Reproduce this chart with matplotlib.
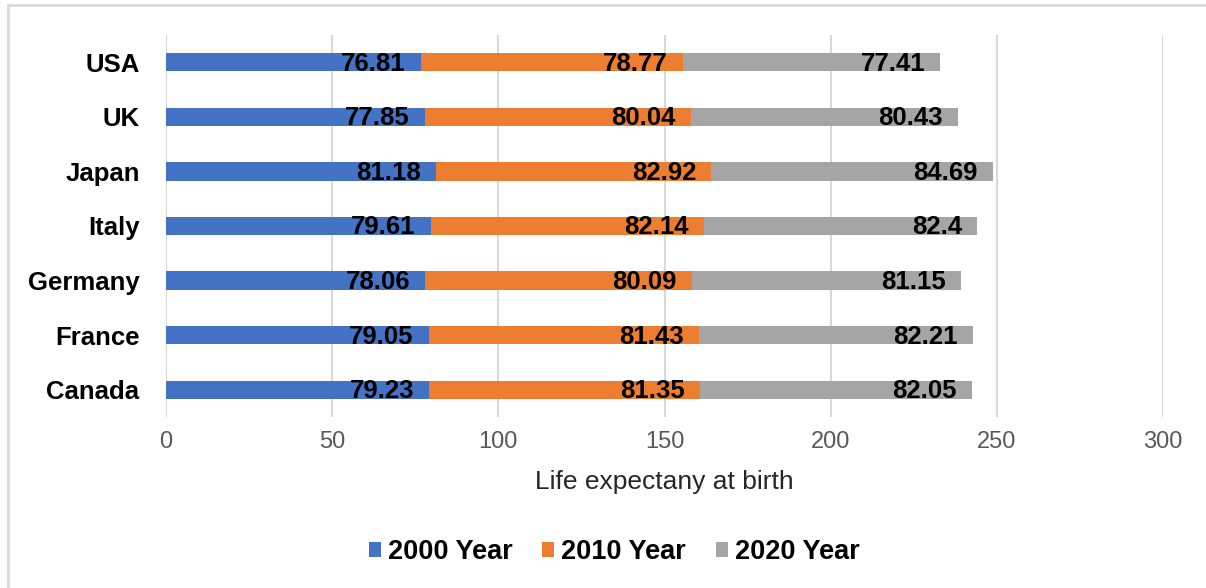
import matplotlib.pyplot as plt
import numpy as np
from matplotlib.lines import Line2D

plt.rcParams['font.family'] = ['Liberation Sans', 'DejaVu Sans']

# Life expectancy at birth, bottom row first
countries = ['Canada', 'France', 'Germany', 'Italy', 'Japan', 'UK', 'USA']
y2000 = [79.23, 79.05, 78.06, 79.61, 81.18, 77.85, 76.81]
y2010 = [81.35, 81.43, 80.09, 82.14, 82.92, 80.04, 78.77]
y2020 = [82.05, 82.21, 81.15, 82.4, 84.69, 80.43, 77.41]
series_names = ['2000 Year', '2010 Year', '2020 Year']
colors = ['#4472C4', '#ED7D31', '#A5A5A5']
xticks = [0, 50, 100, 150, 200, 250, 300]

fig = plt.figure(figsize=(12.06, 5.88), dpi=100)
ax = fig.add_axes([166 / 1206, 1 - 417 / 588, (1163 - 166) / 1206, (417 - 35) / 588])

ypos = np.arange(len(countries))
left = np.zeros(len(countries))
handles = []
for vals, name, col in zip([y2000, y2010, y2020], series_names, colors):
    vals = np.array(vals)
    bars = ax.barh(ypos, vals, left=left, height=1 / 3, color=col, label=name, zorder=2)
    handles.append(bars)
    for y, l, v in zip(ypos, left, vals):
        ax.annotate(f'{v:g}', xy=(l + v, y), xytext=(-11, -1), textcoords='offset points',
                    ha='right', va='center', fontsize=18.5, fontweight='bold', color='black', zorder=3)
    left = left + vals

ax.set_xlim(0, 300)
ax.set_ylim(-0.5, len(countries) - 0.5)
ax.set_xticks(xticks)
ax.set_yticks(ypos)
ax.set_yticklabels(countries, fontsize=18.5, fontweight='bold')
ax.tick_params(axis='y', length=0, pad=19)
ax.tick_params(axis='x', length=0, pad=10, labelsize=17, labelcolor='#595959')
ax.grid(axis='x', color='#d9d9d9', linewidth=1.5, zorder=0)
ax.grid(axis='y', visible=False)
for s in ax.spines.values():
    s.set_visible(False)
ax.set_xlabel('Life expectany at birth', fontsize=19, color='#262626', labelpad=12)

leg = fig.legend(handles=handles, labels=series_names, loc='center', bbox_to_anchor=(614 / 1206, 1 - 552 / 588),
                 ncol=3, frameon=False, fontsize=19.5, handlelength=0.45, handleheight=0.45,
                 handletextpad=0.25, columnspacing=1.1)
for t in leg.get_texts():
    t.set_fontweight('bold')

# outer frame: left and top edges only
fig.add_artist(Line2D([8 / 1206, 8 / 1206], [0, 1 - 5 / 588], transform=fig.transFigure,
                      color='#d9d9d9', linewidth=2))
fig.add_artist(Line2D([8 / 1206, 1], [1 - 5 / 588, 1 - 5 / 588], transform=fig.transFigure,
                      color='#d9d9d9', linewidth=2))

fig.savefig('out.png', dpi=100)
